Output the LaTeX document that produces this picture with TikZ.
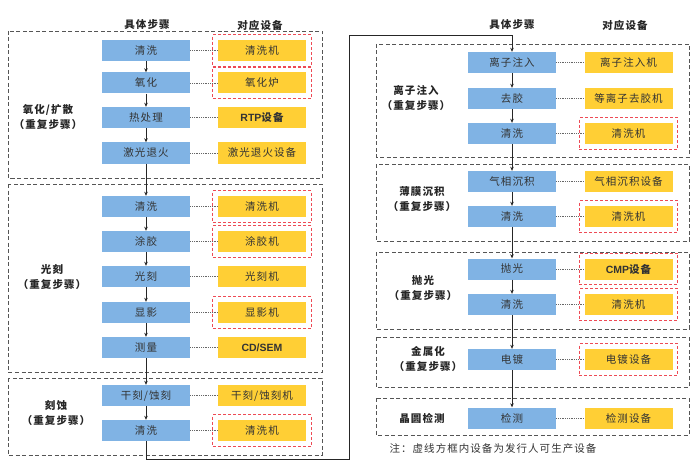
\documentclass[tikz,border=0pt]{standalone}
\usepackage{fontspec}
\setmainfont{Noto Sans CJK SC}[LetterSpace=10]
\newfontfamily\latinb{Liberation Sans}
\usetikzlibrary{arrows.meta,fit}
\definecolor{blueC}{HTML}{80B3E4}
\definecolor{yelC}{HTML}{FFCF35}
\definecolor{redC}{HTML}{EE4A55}
\definecolor{grpC}{HTML}{555555}
\definecolor{txtC}{HTML}{333333}
\tikzset{
  stepbox/.style={fill=blueC,minimum width=88pt,minimum height=21pt,inner sep=0pt,font=\fontsize{10.5}{12}\selectfont,text=txtC},
  equip/.style={fill=yelC,minimum width=88pt,minimum height=21pt,inner sep=0pt,font=\fontsize{10.5}{12}\selectfont,text=txtC},
  redbox/.style={draw=redC,dash pattern=on 3pt off 2pt,line width=0.7pt,inner xsep=5pt,inner ysep=5pt},
  grp/.style={draw=grpC,dash pattern=on 4pt off 2.5pt,line width=0.8pt},
  dotl/.style={draw=gray!80!black,dash pattern=on 1pt off 0.8pt,line width=0.6pt},
  arr/.style={draw=black!85,line width=0.6pt,-{Stealth[length=4pt,width=3.5pt]}},
  glabel/.style={font=\bfseries\fontsize{10.5}{15}\selectfont,align=center,text=black!85},
  head/.style={font=\bfseries\fontsize{10.5}{12}\selectfont,text=black!85},
}
\begin{document}
\begin{tikzpicture}[x=1pt,y=-1pt]
\useasboundingbox (0,0) rectangle (700,465);
% headers
\node[head] (hL1) at (147,25) {具体步骤};
\node[head] (hL2) at (260,25) {对应设备};
\node[head] (hR1) at (512,25) {具体步骤};
\node[head] (hR2) at (625,25) {对应设备};
% group frames
\draw[grp] (8,31) rectangle (322,178);
\draw[grp] (8,184) rectangle (322,372);
\draw[grp] (8,378) rectangle (322,455);
\draw[grp] (376,44) rectangle (689,157);
\draw[grp] (376,164) rectangle (689,241);
\draw[grp] (376,252) rectangle (689,329);
\draw[grp] (376,337) rectangle (689,387);
\draw[grp] (376,398) rectangle (689,435);
% group labels
\node[glabel] (gL1) at (48,117) {氧化/扩散\\（重复步骤）};
\node[glabel] (gL2) at (52,277) {光刻\\（重复步骤）};
\node[glabel] (gL3) at (56,413) {刻蚀\\（重复步骤）};
\node[glabel] (gR1) at (416,98) {离子注入\\（重复步骤）};
\node[glabel] (gR2) at (422,199) {薄膜沉积\\（重复步骤）};
\node[glabel] (gR3) at (423,288) {抛光\\（重复步骤）};
\node[glabel] (gR4) at (428,359) {金属化\\（重复步骤）};
\node[glabel] (gR5) at (422,418) {晶圆检测};
% left steps
\node[stepbox] (L1a) at (146,50.5) {清洗};
\node[stepbox] (L1b) at (146,83) {氧化};
\node[stepbox] (L1c) at (146,117.5) {热处理};
\node[stepbox] (L1d) at (146,153) {激光退火};
\node[stepbox] (L2a) at (146,206.5) {清洗};
\node[stepbox] (L2b) at (146,241.5) {涂胶};
\node[stepbox] (L2c) at (146,276.5) {光刻};
\node[stepbox] (L2d) at (146,312.5) {显影};
\node[stepbox] (L2e) at (146,347.5) {测量};
\node[stepbox] (L3a) at (146,395.5) {干刻/蚀刻};
\node[stepbox] (L3b) at (146,430.5) {清洗};
% left equipment
\node[equip] (E1a) at (262,50.5) {清洗机};
\node[equip] (E1b) at (262,83) {氧化炉};
\node[equip] (E1c) at (262,117.5) {{\latinb\bfseries RTP}\bfseries 设备};
\node[equip] (E1d) at (262,153) {激光退火设备};
\node[equip] (E2a) at (262,206.5) {清洗机};
\node[equip] (E2b) at (262,241.5) {涂胶机};
\node[equip] (E2c) at (262,276.5) {光刻机};
\node[equip] (E2d) at (262,312.5) {显影机};
\node[equip] (E2e) at (262,347.5) {\latinb\bfseries CD/SEM};
\node[equip] (E3a) at (262,395.5) {干刻/蚀刻机};
\node[equip] (E3b) at (262,430.5) {清洗机};
% right steps
\node[stepbox] (R1a) at (512,62.5) {离子注入};
\node[stepbox] (R1b) at (512,98.5) {去胶};
\node[stepbox] (R1c) at (512,133.5) {清洗};
\node[stepbox] (R2a) at (512,181.5) {气相沉积};
\node[stepbox] (R2b) at (512,216.5) {清洗};
\node[stepbox] (R3a) at (512,269) {抛光};
\node[stepbox] (R3b) at (512,304.5) {清洗};
\node[stepbox] (R4a) at (512,359.5) {电镀};
\node[stepbox] (R5a) at (512,418) {检测};
% right equipment
\node[equip] (F1a) at (628.5,62.5) {离子注入机};
\node[equip] (F1b) at (628.5,98.5) {等离子去胶机};
\node[equip] (F1c) at (628.5,133.5) {清洗机};
\node[equip] (F2a) at (628.5,181.5) {气相沉积设备};
\node[equip] (F2b) at (628.5,216.5) {清洗机};
\node[equip] (F3a) at (628.5,269) {{\latinb\bfseries CMP}\bfseries 设备};
\node[equip] (F3b) at (628.5,304.5) {清洗机};
\node[equip] (F4a) at (628.5,359.5) {电镀设备};
\node[equip] (F5a) at (628.5,418) {检测设备};
% red dashed frames
\foreach \n in {E1a,E1b,E2a,E2b,E2d,E3b,F1c,F2b,F3a,F3b,F4a}
  \node[redbox,fit=(\n)] (red\n) {};
% dotted links
\foreach \a/\b in {L1a/E1a,L1b/E1b,L1c/E1c,L1d/E1d,L2a/E2a,L2b/E2b,L2c/E2c,L2d/E2d,L2e/E2e,L3a/E3a,L3b/E3b,R1a/F1a,R1b/F1b,R1c/F1c,R2a/F2a,R2b/F2b,R3a/F3a,R3b/F3b,R4a/F4a,R5a/F5a}
  \draw[dotl] (\a.east) -- (\b.west);
% flow arrows
\foreach \a/\b in {L1a/L1b,L1b/L1c,L1c/L1d,L1d/L2a,L2a/L2b,L2b/L2c,L2c/L2d,L2d/L2e,L2e/L3a,L3a/L3b,R1a/R1b,R1b/R1c,R1c/R2a,R2a/R2b,R2b/R3a,R3a/R3b,R3b/R4a,R4a/R5a}
  \draw[arr] (\a.south) -- (\b.north);
\coordinate (c1) at (146,459);
\coordinate (c2) at (349,459);
\coordinate (c3) at (349,35);
\coordinate (c4) at (512,35);
\draw[arr] (L3b.south) -- (c1) -- (c2) -- (c3) -- (c4) -- (R1a.north);
% note
\node[font=\fontsize{10.5}{12}\selectfont,text=txtC] (note) at (493,449) {注：虚线方框内设备为发行人可生产设备};
\end{tikzpicture}
\end{document}
